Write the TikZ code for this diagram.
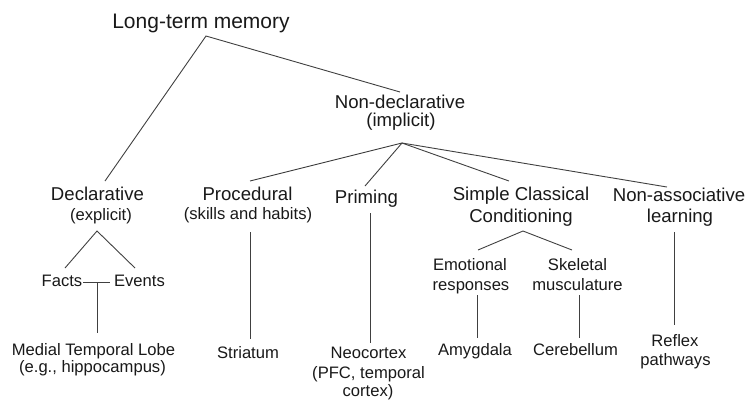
\documentclass[tikz,border=0pt]{standalone}
\usepackage{fontspec}
\setmainfont{Liberation Sans}
\begin{document}
\begin{tikzpicture}[x=1pt,y=-1pt,
  lbl/.style={inner sep=0pt,anchor=base,text=black!90},
  big/.style={lbl,font=\fontsize{21}{24}\selectfont},
  mid/.style={lbl,font=\fontsize{18.6}{22}\selectfont},
  sml/.style={lbl,font=\fontsize{16.6}{20}\selectfont},
  conn/.style={draw=black!75,line width=0.9pt}]
\useasboundingbox (0,0) rectangle (749,400);
% texts
\node[big] (ltm) at (201,28.3) {Long-term memory};
\node[mid] (nd1) at (400,108) {Non-declarative};
\node[mid] (nd2) at (401,126) {(implicit)};
\node[mid] (dec1) at (97.5,200) {Declarative};
\node[sml] (dec2) at (101,220) {(explicit)};
\node[mid] (pro1) at (247.5,200) {Procedural};
\node[sml] (pro2) at (248,219) {(skills and habits)};
\node[mid] (pri) at (366.5,203) {Priming};
\node[mid] (scc1) at (521,200) {Simple Classical};
\node[mid] (scc2) at (521,222) {Conditioning};
\node[mid] (nal1) at (679,201.5) {Non-associative};
\node[mid] (nal2) at (680,222.5) {learning};
\node[sml] (facts) at (62,286.7) {Facts};
\node[sml] (events) at (139.5,286.7) {Events};
\node[sml] (mtl1) at (93.5,355) {Medial Temporal Lobe};
\node[sml] (mtl2) at (92.5,372) {(e.g., hippocampus)};
\node[sml] (str) at (248,358) {Striatum};
\node[sml] (neo1) at (368.5,358) {Neocortex};
\node[sml] (neo2) at (368.5,378) {(PFC, temporal};
\node[sml] (neo3) at (368,396.5) {cortex)};
\node[sml] (emo1) at (470,270.5) {Emotional};
\node[sml] (emo2) at (471,290) {responses};
\node[sml] (ske1) at (577.5,270.5) {Skeletal};
\node[sml] (ske2) at (577.5,290) {musculature};
\node[sml] (amy) at (475,355) {Amygdala};
\node[sml] (cer) at (575.5,355) {Cerebellum};
\node[sml] (ref1) at (675,346.7) {Reflex};
\node[sml] (ref2) at (675.5,365) {pathways};
% connector points
\coordinate (ltmA) at (206,36);
\coordinate (decT) at (105,181);
\coordinate (ndT) at (400,92);
\coordinate (ndA) at (402,143);
\coordinate (proT) at (250,181);
\coordinate (priT) at (365,186);
\coordinate (sccT) at (509,181);
\coordinate (nalT) at (667,187);
\coordinate (decA) at (97,231);
\coordinate (factsT) at (65,268);
\coordinate (eventsT) at (135,268);
\coordinate (feL) at (83,282);
\coordinate (feR) at (110,282);
\coordinate (feM) at (97,282);
\coordinate (mtlT) at (97,333);
\coordinate (proB) at (250,232);
\coordinate (strT) at (250,339);
\coordinate (priB) at (370,213);
\coordinate (neoT) at (370,343);
\coordinate (sccA) at (523,231);
\coordinate (emoT) at (478,250);
\coordinate (skeT) at (572,250);
\coordinate (emoB) at (477,295);
\coordinate (amyT) at (477,338);
\coordinate (skeB) at (579,295);
\coordinate (cerT) at (579,338);
\coordinate (nalB) at (674,232);
\coordinate (refT) at (674,325);
% connectors
\draw[conn] (decT) -- (ltmA) -- (ndT);
\draw[conn] (ndA) -- (proT);
\draw[conn] (ndA) -- (priT);
\draw[conn] (ndA) -- (sccT);
\draw[conn] (ndA) -- (nalT);
\draw[conn] (factsT) -- (decA) -- (eventsT);
\draw[conn] (feL) -- (feR);
\draw[conn] (feM) -- (mtlT);
\draw[conn] (proB) -- (strT);
\draw[conn] (priB) -- (neoT);
\draw[conn] (emoT) -- (sccA) -- (skeT);
\draw[conn] (emoB) -- (amyT);
\draw[conn] (skeB) -- (cerT);
\draw[conn] (nalB) -- (refT);
\end{tikzpicture}
\end{document}
